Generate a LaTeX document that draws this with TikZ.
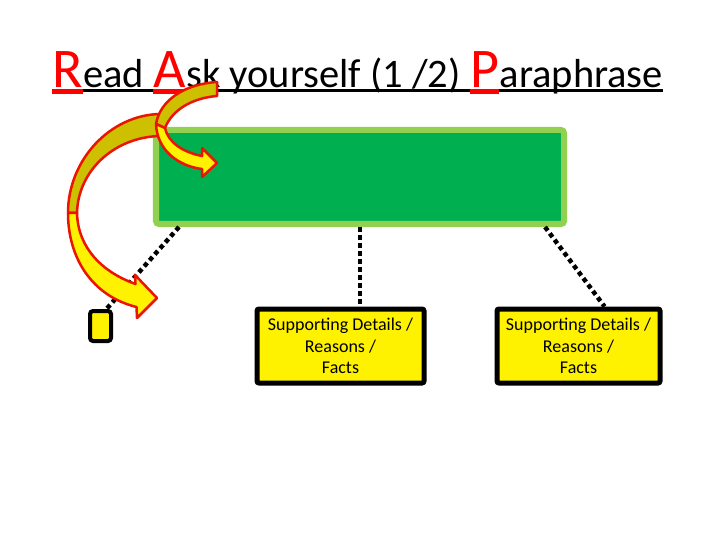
\documentclass[tikz,border=0pt]{standalone}
\usepackage{fontspec}
\setmainfont{Carlito}
\definecolor{gfill}{RGB}{0,176,80}
\definecolor{gline}{RGB}{146,208,80}
\definecolor{arrback}{RGB}{204,192,0}
\definecolor{arrred}{RGB}{235,20,0}
\definecolor{ttred}{RGB}{255,0,0}
\tikzset{
  dotline/.style={line width=4.5bp, dash pattern=on 4.5bp off 3.5bp},
  ybox/.style={draw=black, line width=5bp, fill=yellow, rounded corners=2bp, inner sep=0pt,
    align=center, font=\fontsize{18bp}{21.5bp}\selectfont},
  arrowline/.style={draw=arrred, line width=2.5bp, line join=round},
  bigl/.style={anchor=base west, inner sep=0pt, text=ttred, font=\fontsize{56bp}{60bp}\selectfont},
  smalll/.style={anchor=base west, inner sep=0pt, text=black, font=\fontsize{40.5bp}{48bp}\selectfont},
}
\begin{document}
\begin{tikzpicture}[x=1bp,y=-1bp]
\useasboundingbox (0,0) rectangle (720,540);
% title
\node[bigl] (tR) at (52,88) {R};
\node[smalll] (t1) at (tR.base east) {ead\ \null};
\node[bigl] (tA) at (t1.base east) {A};
\node[smalll] (t2) at (tA.base east) {sk yourself (1 /2)\ \null};
\node[bigl] (tP) at (t2.base east) {P};
\node[smalll] (t3) at (tP.base east) {araphrase};
\draw[black, line width=3bp] ([yshift=-3bp]tR.base west) -- ([yshift=-3bp]t3.base east);
\foreach \n in {tR,tA,tP}
  \draw[ttred, line width=5bp] ([yshift=-4bp]\n.base west) -- ([yshift=-4bp]\n.base east);
% boxes
\node[draw=gline, fill=gfill, line width=6bp, rounded corners=3bp, minimum width=408bp, minimum height=94bp, inner sep=0pt] (main) at (360,177) {};
\node[ybox, minimum width=167bp, minimum height=74bp] (b1) at (340.5,346) {Supporting Details /\\Reasons /\\Facts};
\node[ybox, minimum width=163bp, minimum height=74bp] (b2) at (578.5,346) {Supporting Details /\\Reasons /\\Facts};
\node[draw=black, fill=yellow, line width=4bp, rounded corners=3bp, minimum width=21bp, minimum height=30bp, inner sep=0pt] (b0) at (100.5,326) {};
% dotted connectors
\draw[dotline] ([xshift=26bp]main.south west) -- ([xshift=6bp]b0.north);
\draw[dotline] (main.south) -- (main.south |- b1.north);
\draw[dotline] ([xshift=-22bp]main.south east) -- ([xshift=26bp]b2.north);
% big curved arrow
\draw[arrowline, fill=arrback] (160,114) .. controls (110,115) and (68,160) .. (68,213)
  -- (77,213) .. controls (78,170) and (115,137) .. (160,136) -- cycle;
\draw[arrowline, fill=yellow] (77,213) .. controls (78,248) and (102,272) .. (135.5,284)
  -- (135,275) -- (157,298) -- (137,318) -- (136.5,307)
  .. controls (92,296) and (68,258) .. (68,213) -- cycle;
% small curved arrow
\draw[arrowline, fill=arrback] (217,82) .. controls (185,84) and (160,100) .. (156,124)
  -- (165,128) .. controls (172,110) and (192,98) .. (217,96) -- cycle;
\draw[arrowline, fill=yellow] (165,128) .. controls (168,142) and (182,152) .. (202,156)
  -- (202,148) -- (217,163) -- (202,177) -- (202,169)
  .. controls (178,166) and (157,150) .. (156,124) -- cycle;
\end{tikzpicture}
\end{document}
